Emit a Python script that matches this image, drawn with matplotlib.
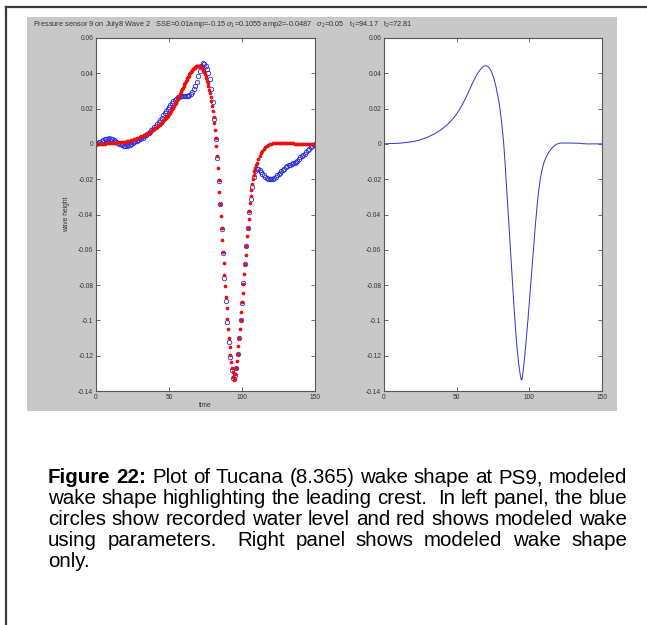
import matplotlib.pyplot as plt
from matplotlib.lines import Line2D
from matplotlib.patches import Rectangle
import numpy as np

# recorded water level at pressure sensor 9 (blue circles), one sample per time unit
obs_time = np.arange(0, 151)
obs_height = [
    0.0000, 0.0003, 0.0008, 0.0013, 0.0018, 0.0022, 0.0026, 0.0028, 0.0030, 0.0031,
    0.0030, 0.0028, 0.0024, 0.0019, 0.0013, 0.0007, 0.0002, -0.0003, -0.0007, -0.0010,
    -0.0011, -0.0011, -0.0009, -0.0005, 0.0000, 0.0005, 0.0010, 0.0014, 0.0018, 0.0022,
    0.0026, 0.0031, 0.0036, 0.0042, 0.0048, 0.0054, 0.0061, 0.0068, 0.0076, 0.0084,
    0.0093, 0.0103, 0.0114, 0.0125, 0.0137, 0.0149, 0.0161, 0.0173, 0.0186, 0.0198,
    0.0210, 0.0221, 0.0232, 0.0242, 0.0250, 0.0257, 0.0263, 0.0267, 0.0269, 0.0270,
    0.0270, 0.0270, 0.0270, 0.0272, 0.0277, 0.0285, 0.0296, 0.0310, 0.0328, 0.0352,
    0.0382, 0.0412, 0.0440, 0.0456, 0.0452, 0.0442, 0.0425, 0.0400, 0.0365, 0.0310,
    0.0237, 0.0140, 0.0030, -0.0080, -0.0210, -0.0340, -0.0480, -0.0620, -0.0760, -0.0890,
    -0.1010, -0.1120, -0.1210, -0.1280, -0.1325, -0.1310, -0.1270, -0.1190, -0.1100, -0.1000,
    -0.0900, -0.0790, -0.0680, -0.0576, -0.0474, -0.0385, -0.0310, -0.0245, -0.0190, -0.0155,
    -0.0140, -0.0142, -0.0150, -0.0160, -0.0170, -0.0178, -0.0186, -0.0193, -0.0198, -0.0200,
    -0.0200, -0.0198, -0.0192, -0.0185, -0.0177, -0.0170, -0.0163, -0.0156, -0.0148, -0.0140,
    -0.0133, -0.0127, -0.0122, -0.0118, -0.0114, -0.0110, -0.0107, -0.0103, -0.0095, -0.0085,
    -0.0075, -0.0068, -0.0062, -0.0055, -0.0046, -0.0037, -0.0028, -0.0020, -0.0012, -0.0005,
    0.0000,
]

# modeled wake (red dots, right panel line); sampled every 0.5 where it changes fast
model_time = np.concatenate([np.arange(0, 40), np.arange(40, 110.25, 0.5), np.arange(111, 151)])
model_height = [
    # t = 0 .. 39
    0.0000, 0.0001, 0.0001, 0.0001, 0.0002, 0.0002, 0.0002, 0.0003, 0.0003, 0.0003,
    0.0004, 0.0004, 0.0005, 0.0006, 0.0007, 0.0008, 0.0009, 0.0010, 0.0011, 0.0012,
    0.0013, 0.0015, 0.0017, 0.0019, 0.0021, 0.0023, 0.0026, 0.0029, 0.0032, 0.0035,
    0.0038, 0.0042, 0.0046, 0.0050, 0.0054, 0.0058, 0.0063, 0.0068, 0.0073, 0.0079,
    # t = 40 .. 77 (step 0.5)
    0.0085, 0.0088, 0.0091, 0.0094, 0.0098, 0.0101, 0.0105, 0.0109, 0.0113, 0.0117,
    0.0121, 0.0125, 0.0130, 0.0134, 0.0139, 0.0144, 0.0149, 0.0154, 0.0159, 0.0164,
    0.0170, 0.0176, 0.0182, 0.0188, 0.0195, 0.0202, 0.0209, 0.0216, 0.0224, 0.0232,
    0.0240, 0.0248, 0.0257, 0.0265, 0.0274, 0.0283, 0.0292, 0.0301, 0.0310, 0.0319,
    0.0328, 0.0337, 0.0346, 0.0355, 0.0363, 0.0371, 0.0379, 0.0387, 0.0394, 0.0401,
    0.0407, 0.0413, 0.0418, 0.0423, 0.0428, 0.0432, 0.0436, 0.0439, 0.0441, 0.0442,
    0.0443, 0.0442, 0.0441, 0.0438, 0.0435, 0.0430, 0.0424, 0.0417, 0.0408, 0.0398,
    0.0386, 0.0373, 0.0358, 0.0343, 0.0326,
    # t = 77.5 .. 110 (step 0.5)
    0.0306, 0.0288, 0.0267, 0.0243, 0.0216, 0.0186, 0.0153, 0.0117, 0.0078, 0.0036,
    -0.0012, -0.0070, -0.0135, -0.0202, -0.0270, -0.0338, -0.0406, -0.0474, -0.0542, -0.0610,
    -0.0677, -0.0743, -0.0807, -0.0869, -0.0929, -0.0990, -0.1048, -0.1102, -0.1151, -0.1195,
    -0.1234, -0.1267, -0.1295, -0.1320, -0.1338, -0.1333, -0.1305, -0.1270, -0.1230, -0.1188,
    -0.1143, -0.1097, -0.1049, -0.1000, -0.0950, -0.0898, -0.0845, -0.0791, -0.0737, -0.0683,
    -0.0629, -0.0576, -0.0524, -0.0474, -0.0426, -0.0380, -0.0337, -0.0297, -0.0261, -0.0229,
    -0.0201, -0.0177, -0.0156, -0.0138, -0.0122, -0.0108,
    # t = 111 .. 150
    -0.0086, -0.0068, -0.0053, -0.0040, -0.0029, -0.0020, -0.0012, -0.0006, -0.0001, 0.0002,
    0.0004, 0.0005, 0.0005, 0.0005, 0.0005, 0.0005, 0.0005, 0.0005, 0.0005, 0.0005,
    0.0004, 0.0004, 0.0004, 0.0004, 0.0003, 0.0002, 0.0001, 0.0001, 0.0000, 0.0000,
    0.0000, 0.0000, 0.0000, 0.0000, 0.0000, 0.0000, 0.0000, 0.0000, 0.0000, 0.0000,
]

xticks = [0, 50, 100, 150]
yticks = [-0.14, -0.12, -0.1, -0.08, -0.06, -0.04, -0.02, 0, 0.02, 0.04, 0.06]
ytick_labels = ['-0.14', '-0.12', '-0.1', '-0.08', '-0.06', '-0.04', '-0.02', '0', '0.02', '0.04', '0.06']

title = ('Pressure sensor 9 on July8 Wave 2   SSE=0.01amp=-0.15 $\\sigma_1$=0.1055 amp2=-0.0487   '
         '$\\sigma_2$=0.05   t$_1$=94.17   t$_2$=72.81')

caption = [
    [('Figure', 'bold'), ('22:', 'bold'), ('Plot', 'normal'), ('of', 'normal'), ('Tucana', 'normal'),
     ('(8.365)', 'normal'), ('wake', 'normal'), ('shape', 'normal'), ('at', 'normal'), ('PS9,', 'normal'),
     ('modeled', 'normal')],
    'wake shape highlighting the leading crest.  In left panel, the blue',
    'circles show recorded water level and red shows modeled wake',
    'using parameters.  Right panel shows modeled wake shape',
    'only.',
]

plt.rcParams['font.family'] = ['Liberation Sans', 'DejaVu Sans']
plt.rcParams['mathtext.fontset'] = 'custom'
plt.rcParams['mathtext.rm'] = 'Liberation Sans'
plt.rcParams['mathtext.it'] = 'Liberation Sans:italic'

W, H = 647, 625
fig = plt.figure(figsize=(W / 100, H / 100), dpi=100, facecolor='white')

# page frame and the grey matlab figure area
fig.add_artist(Line2D([6 / W, 6 / W], [0, 1 - 7 / H], color='#3a3a3a', lw=1.6))
fig.add_artist(Line2D([6 / W, 1], [1 - 7 / H, 1 - 7 / H], color='#3a3a3a', lw=1.6))
fig.patches.append(Rectangle((27 / W, 1 - 411 / H), 590 / W, 393.5 / H, transform=fig.transFigure,
                             facecolor='#c8c8c8', edgecolor='none', zorder=-5))

ax1 = fig.add_axes([96 / W, 1 - 391 / H, 219 / W, 353 / H])
ax2 = fig.add_axes([384 / W, 1 - 391 / H, 218 / W, 353 / H])

ax1.plot(obs_time, obs_height, 'o', mfc='none', mec='#2a2ad8', ms=3.2, mew=0.6)
ax1.plot(model_time, model_height, '.', color='#e81010', ms=3.3)
ax2.plot(model_time, model_height, '-', color='#3030d8', lw=0.7)

for ax in (ax1, ax2):
    ax.set_facecolor('white')
    ax.set_xlim(0, 150)
    ax.set_ylim(-0.14, 0.06)
    ax.set_xticks(xticks)
    ax.set_yticks(yticks)
    ax.set_yticklabels(ytick_labels)
    ax.tick_params(direction='in', top=True, right=True, length=3, width=0.6,
                   color='#555555', labelsize=4.8, labelcolor='#333333', pad=2)
    for s in ax.spines.values():
        s.set_color('#555555')
        s.set_linewidth(0.8)

ax1.set_xlabel('time', fontsize=4.8, color='#333333', labelpad=1)
ax1.set_ylabel('wave height', fontsize=4.8, color='#333333', labelpad=6)
fig.text(33 / W, 1 - 25 / H, title, fontsize=5.3, color='#333333', va='center', ha='left')

# justified caption below the figure
renderer = fig.canvas.get_renderer()
x_left, x_right = 48, 627
size = 14.8
base = 483
step = 21
probe = fig.text(0, 0, 'a a', fontsize=size)
probe2 = fig.text(0, 0, 'aa', fontsize=size)
space_w = probe.get_window_extent(renderer).width - probe2.get_window_extent(renderer).width
probe.remove()
probe2.remove()

for i, line in enumerate(caption):
    if isinstance(line, str):
        words = [(w, 'normal') for w in line.split(' ')]
    else:
        words = line
    y = 1 - (base + i * step) / H
    texts = [fig.text(0, y, w, fontsize=size, fontweight=wt, color='black', va='baseline')
             for w, wt in words]
    widths = [t.get_window_extent(renderer).width if w else 0 for t, (w, wt) in zip(texts, words)]
    if i < len(caption) - 1 and len(words) > 1:
        gap = (x_right - x_left - sum(widths)) / (len(words) - 1)
    else:
        gap = space_w
    x = x_left
    for t, w in zip(texts, widths):
        t.set_x(x / W)
        x += w + gap

fig.savefig('out.png', dpi=100)
